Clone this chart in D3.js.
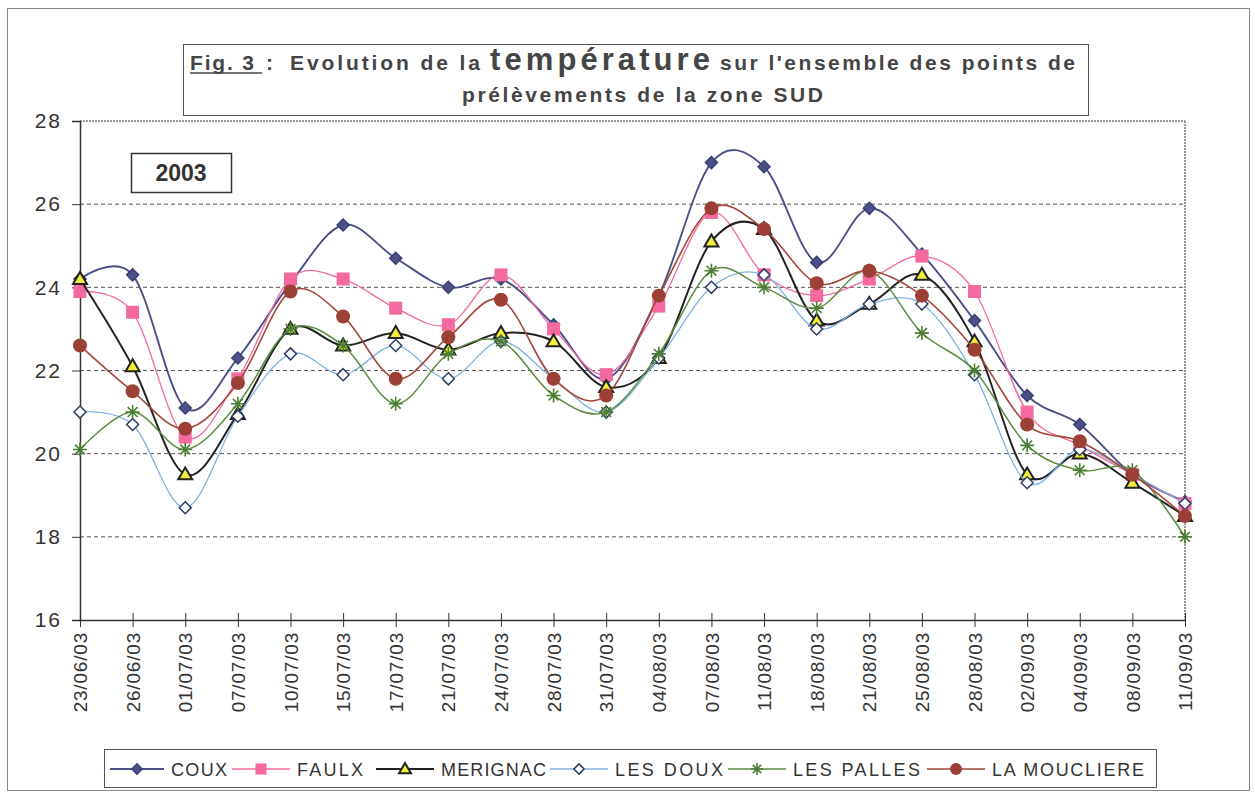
<!DOCTYPE html>
<html>
<head>
<meta charset="utf-8">
<script src="https://cdn.jsdelivr.net/npm/d3@7"></script>
<style>
  body { margin: 0; background: #fff; }
  svg { font-family: Arial, "Liberation Sans", sans-serif; }
</style>
</head>
<body>
<svg width="1255" height="795"></svg>
<script>
// dates of the sampling campaigns
const dates = ["23/06/03","26/06/03","01/07/03","07/07/03","10/07/03","15/07/03","17/07/03","21/07/03",
  "24/07/03","28/07/03","31/07/03","04/08/03","07/08/03","11/08/03","18/08/03","21/08/03",
  "25/08/03","28/08/03","02/09/03","04/09/03","08/09/03","11/09/03"];

// temperatures (°C) for each site
const coux      = [24.2,24.3,21.1,22.3,24.1,25.5,24.7,24.0,24.2,23.1,21.8,23.8,27.0,26.9,24.6,25.9,24.8,23.2,21.4,20.7,19.5,18.85];
const faulx     = [23.9,23.4,20.4,21.8,24.2,24.2,23.5,23.1,24.3,23.0,21.9,23.55,25.8,24.3,23.8,24.2,24.75,23.9,21.0,20.2,19.5,18.8];
const merignac  = [24.2,22.1,19.5,20.95,23.0,22.6,22.9,22.5,22.9,22.7,21.6,22.3,25.1,25.4,23.2,23.6,24.3,22.7,19.5,20.0,19.3,18.5];
const lesDoux   = [21.0,20.7,18.7,20.9,22.4,21.9,22.6,21.8,22.7,21.8,21.0,22.3,24.0,24.3,23.0,23.6,23.6,21.9,19.3,20.1,19.5,18.8];
const lesPalles = [20.1,21.0,20.1,21.2,23.0,22.6,21.2,22.4,22.7,21.4,21.0,22.4,24.4,24.0,23.5,24.4,22.9,22.0,20.2,19.6,19.6,18.0];
const moucliere = [22.6,21.5,20.6,21.7,23.9,23.3,21.8,22.8,23.7,21.8,21.4,23.8,25.9,25.4,24.1,24.4,23.8,22.5,20.7,20.3,19.5,18.5];

const yTicks = [16,18,20,22,24,26,28];

const series = [
  {name: "COUX",        values: coux,      color: "#4b5088", marker: "diamond", fill: "#4b5088", mstroke: "#3a3f75", width: 1.9},
  {name: "FAULX",       values: faulx,     color: "#f46aa0", marker: "square",  fill: "#f46aa0", mstroke: "#f46aa0", width: 1.3},
  {name: "MERIGNAC",    values: merignac,  color: "#222222", marker: "triangle",fill: "#f2ee3c", mstroke: "#222222", width: 2},
  {name: "LES DOUX",    values: lesDoux,   color: "#7fb2e0", marker: "diamond", fill: "#ffffff", mstroke: "#2e3c66", width: 1.3},
  {name: "LES PALLES",  values: lesPalles, color: "#5d8b42", marker: "star",    fill: "none",    mstroke: "#4d7d35", width: 1.5},
  {name: "LA MOUCLIERE",values: moucliere, color: "#a4473c", marker: "circle",  fill: "#9c3f36", mstroke: "#9c3f36", width: 1.6}
];

const svg = d3.select("svg");
const margin = {left: 80, top: 121, right: 1185, bottom: 620};

// outer frame
svg.append("rect").attr("x", 7.5).attr("y", 8.5).attr("width", 1242).attr("height", 782)
  .attr("fill", "none").attr("stroke", "#888").attr("stroke-width", 1);

const x = d3.scalePoint().domain(dates).range([margin.left, margin.right]);
const y = d3.scaleLinear().domain([16, 28]).range([margin.bottom, margin.top]);

// gridlines
svg.append("g").selectAll("line").data(yTicks.filter(d => d > 16 && d < 28)).enter().append("line")
  .attr("x1", margin.left).attr("x2", margin.right)
  .attr("y1", d => y(d)).attr("y2", d => y(d))
  .attr("stroke", "#555").attr("stroke-width", 1).attr("stroke-dasharray", "4,3");

// plot frame (top and right)
svg.append("line").attr("x1", margin.left).attr("x2", margin.right).attr("y1", y(28)).attr("y2", y(28))
  .attr("stroke", "#777").attr("stroke-width", 1.5).attr("stroke-dasharray", "2,1");
svg.append("line").attr("x1", margin.right).attr("x2", margin.right).attr("y1", y(28)).attr("y2", y(16))
  .attr("stroke", "#777").attr("stroke-width", 1.5).attr("stroke-dasharray", "2,1");

// y axis
const yAxis = svg.append("g").attr("transform", `translate(${margin.left},0)`)
  .call(d3.axisLeft(y).tickValues(yTicks).tickSize(8).tickPadding(10).tickFormat(d3.format("d")));
yAxis.select(".domain").attr("stroke", "#333").attr("stroke-width", 1.5);
yAxis.selectAll(".tick line").attr("stroke", "#333");
yAxis.selectAll("text").attr("font-size", 21).attr("fill", "#333").attr("letter-spacing", 2)
  .attr("font-family", "Arial, 'Liberation Sans', sans-serif");

// x axis
const xAxis = svg.append("g").attr("transform", `translate(0,${margin.bottom})`)
  .call(d3.axisBottom(x).tickSizeInner(7).tickSizeOuter(0));
xAxis.select(".domain").attr("stroke", "#333").attr("stroke-width", 1.5);
xAxis.selectAll(".tick line").attr("stroke", "#333").attr("y1", -7).attr("y2", 7);
xAxis.selectAll("text")
  .attr("font-size", 19).attr("fill", "#333").attr("letter-spacing", 0.8)
  .attr("font-family", "Arial, 'Liberation Sans', sans-serif")
  .attr("transform", "rotate(-90)")
  .attr("text-anchor", "end").attr("x", -12).attr("y", 0).attr("dy", "0.35em");

// marker drawing
function drawMarker(g, s, cx, cy, size) {
  const k = size || 1;
  if (s.marker === "diamond") {
    const r = 6 * k;
    g.append("path").attr("d", `M${cx},${cy - r}L${cx + r},${cy}L${cx},${cy + r}L${cx - r},${cy}Z`)
      .attr("fill", s.fill).attr("stroke", s.mstroke).attr("stroke-width", 1.5);
  } else if (s.marker === "square") {
    const r = 6.5 * k;
    g.append("rect").attr("x", cx - r).attr("y", cy - r).attr("width", 2 * r).attr("height", 2 * r)
      .attr("fill", s.fill).attr("stroke", "none");
  } else if (s.marker === "triangle") {
    const r = 7 * k;
    g.append("path").attr("d", `M${cx},${cy - r}L${cx + r},${cy + r * 0.7}L${cx - r},${cy + r * 0.7}Z`)
      .attr("fill", s.fill).attr("stroke", s.mstroke).attr("stroke-width", 2);
  } else if (s.marker === "star") {
    const r = 7 * k;
    g.append("path").attr("d",
      `M${cx - r},${cy}L${cx + r},${cy}M${cx},${cy - r}L${cx},${cy + r}` +
      `M${cx - r * 0.7},${cy - r * 0.7}L${cx + r * 0.7},${cy + r * 0.7}M${cx - r * 0.7},${cy + r * 0.7}L${cx + r * 0.7},${cy - r * 0.7}`)
      .attr("stroke", s.mstroke).attr("stroke-width", 1.6).attr("fill", "none");
  } else if (s.marker === "circle") {
    g.append("circle").attr("cx", cx).attr("cy", cy).attr("r", 7 * k)
      .attr("fill", s.fill).attr("stroke", "none");
  }
}

// smoothed lines like the spreadsheet
const line = d3.line()
  .x((d, i) => x(dates[i]))
  .y(d => y(d))
  .curve(d3.curveCatmullRom.alpha(0));

series.forEach(s => {
  const g = svg.append("g");
  g.append("path").datum(s.values).attr("d", line)
    .attr("fill", "none").attr("stroke", s.color).attr("stroke-width", s.width);
  s.values.forEach((v, i) => drawMarker(g, s, x(dates[i]), y(v)));
});

// title box
svg.append("rect").attr("x", 183.5).attr("y", 44.5).attr("width", 905).attr("height", 71)
  .attr("fill", "#fff").attr("stroke", "#555").attr("stroke-width", 1);

function titlePart(txt, x0, len, yb, fs) {
  return svg.append("text").attr("x", x0).attr("y", yb)
    .attr("font-weight", "bold").attr("fill", "#454545").attr("font-size", fs)
    .attr("textLength", len).attr("lengthAdjust", "spacing").text(txt);
}
titlePart("Fig. 3", 190, 64, 70, 21);
svg.append("line").attr("x1", 190).attr("x2", 262).attr("y1", 73).attr("y2", 73)
  .attr("stroke", "#454545").attr("stroke-width", 1.5);
titlePart(":", 266, 6, 70, 21);
titlePart("Evolution de la", 290, 190, 70, 21);
titlePart("température", 490, 220, 70, 31);
titlePart("sur l'ensemble des points de", 720, 355, 70, 21);
titlePart("prélèvements de la zone SUD", 462, 361, 102, 21);

// 2003 box
svg.append("rect").attr("x", 131.5).attr("y", 153.5).attr("width", 100).attr("height", 39)
  .attr("fill", "#fff").attr("stroke", "#333").attr("stroke-width", 1.5);
svg.append("text").attr("x", 181).attr("y", 181).attr("text-anchor", "middle")
  .attr("font-weight", "bold").attr("font-size", 23).attr("fill", "#333").text("2003");

// legend
svg.append("rect").attr("x", 104.5).attr("y", 749.5).attr("width", 1052).attr("height", 38)
  .attr("fill", "#fff").attr("stroke", "#555").attr("stroke-width", 1);
const legendX = [110, 232, 376, 550, 728, 927];
const legendText = [56, 66, 105, 108, 127, 152];
series.forEach((s, i) => {
  const g = svg.append("g");
  const lx = legendX[i], ly = 769;
  const len = (i === 0 ? 54 : 58);
  g.append("line").attr("x1", lx).attr("x2", lx + len).attr("y1", ly).attr("y2", ly)
    .attr("stroke", s.color).attr("stroke-width", s.width);
  drawMarker(g, s, lx + len / 2, ly, 0.85);
  g.append("text").attr("x", lx + len + 7).attr("y", ly + 6.5).attr("font-size", 18).attr("fill", "#333")
    .attr("textLength", legendText[i]).attr("lengthAdjust", "spacing").text(s.name);
});
</script>
</body>
</html>
